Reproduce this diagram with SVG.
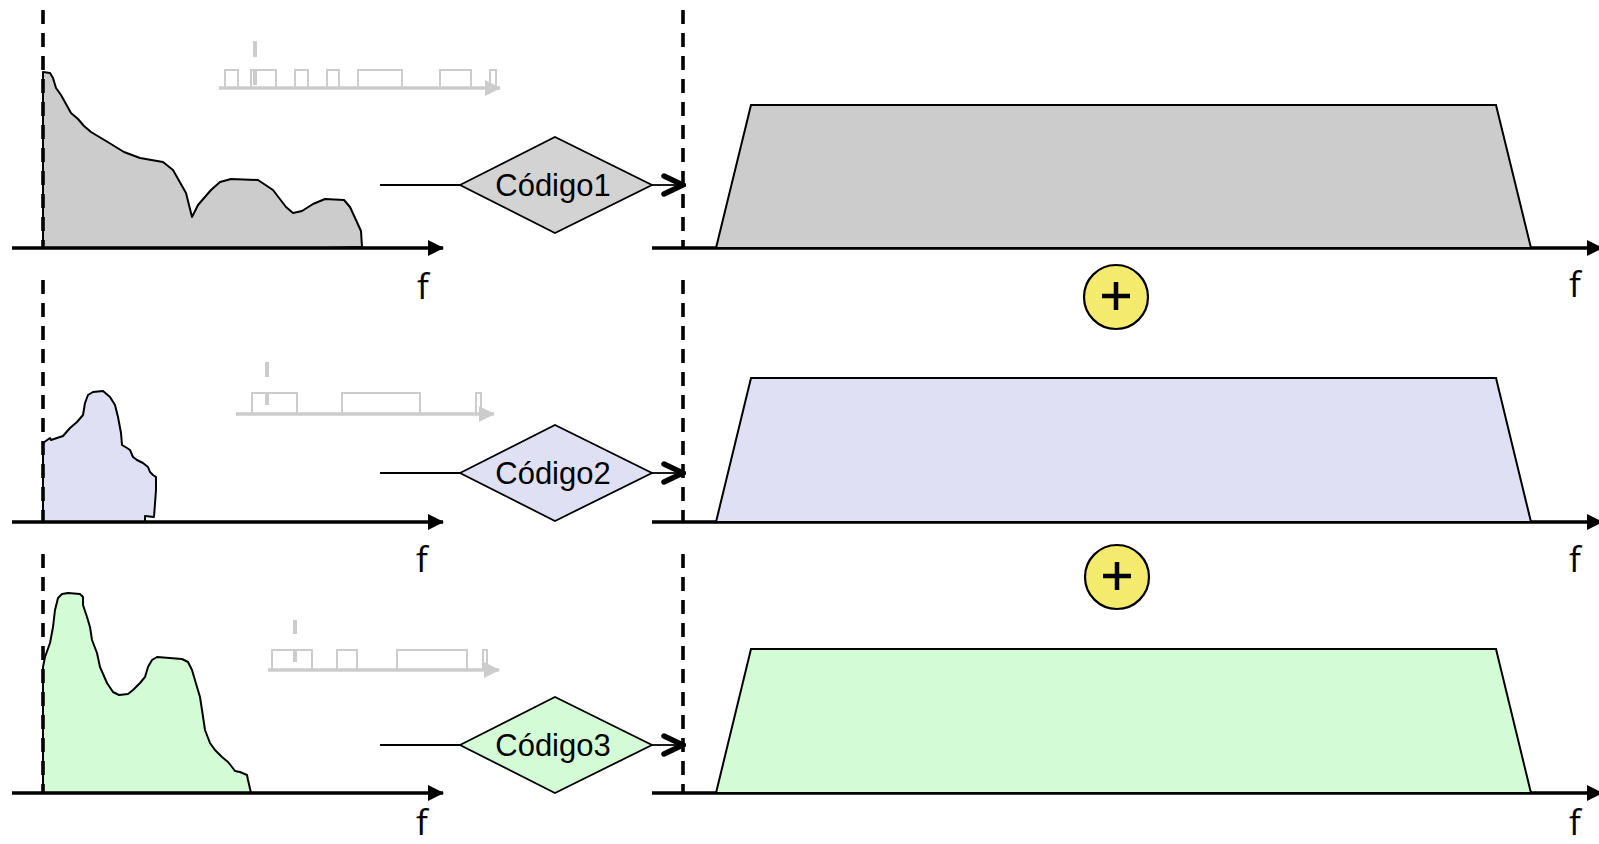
<svg xmlns="http://www.w3.org/2000/svg" width="1599" height="844" viewBox="0 0 1599 844">
  <defs>
    <style>
      .axis { stroke: #000; stroke-width: 3.6; fill: none; }
      .dash { stroke: #000; stroke-width: 3.6; stroke-dasharray: 14 9; fill: none; }
      .spec { stroke: #000; stroke-width: 2; stroke-linejoin: round; }
      .band { stroke: #000; stroke-width: 2; }
      .pulse { stroke: #cccccc; stroke-width: 2; fill: none; }
      .pbase { stroke: #cccccc; stroke-width: 3.5; fill: none; }
      .ptick { stroke: #cccccc; stroke-width: 4; fill: none; }
      .link { stroke: #000; stroke-width: 1.8; fill: none; }
      .diamond { stroke: #000; stroke-width: 1.8; }
      .lbl { font-family: "Liberation Sans", Arial, sans-serif; font-size: 31px; fill: #000; text-anchor: middle; dominant-baseline: central; }
      .f { font-family: "Open Sans", "DejaVu Sans", sans-serif; font-size: 35px; fill: #000; text-anchor: middle; }
      .sum { fill: #f3ea6e; stroke: #000; stroke-width: 2.2; }
      .plus { stroke: #000; stroke-width: 4.5; fill: none; }
      .gray { fill: #cccccc; }
      .lav { fill: #dfe0f3; }
      .mint { fill: #d3fbd5; }
    </style>
    <marker id="tri" viewBox="0 0 16 16" refX="15" refY="8" markerWidth="16" markerHeight="16" markerUnits="userSpaceOnUse" orient="auto">
      <path d="M0,0 L16,8 L0,16 Z" fill="#000"/>
    </marker>
    <marker id="grayTri" viewBox="0 0 16 16" refX="15" refY="8" markerWidth="16" markerHeight="16" markerUnits="userSpaceOnUse" orient="auto">
      <path d="M0,0 L16,8 L0,16 Z" fill="#cccccc"/>
    </marker>
    <marker id="open" viewBox="0 0 26 26" refX="23" refY="13" markerWidth="26" markerHeight="26" markerUnits="userSpaceOnUse" orient="auto">
      <path d="M4,4 L23,13 L4,22" fill="none" stroke="#000" stroke-width="5.5" stroke-linecap="round" stroke-linejoin="miter"/>
    </marker>
  </defs>

  <!-- ========== Band 1 ========== -->
  <g id="spectrum1">
    <path class="spec gray" d="M43,72 L50,73 L53,78 L56,88 L61,95 L66,104 L71,113 L78,119 L84,126 L91,132 L106,141 L124,152 L140,158 L163,162 L173,170 L186,193 L192,217 L198,205 L211,190 L220,182 L231,179 L258,180 L273,190 L286,207 L293,213 L302,211 L313,204 L325,199 L344,200 L350,207 L356,220 L361,231 L362,247 L325,248 L43,248 Z"/>
  </g>
  <g id="pulses1">
    <path class="pbase" d="M219,88 L500,88" marker-end="url(#grayTri)"/>
    <path class="pulse" d="M225,88 V70 H238 V88 M251,88 V70 H276 V88 M295,88 V70 H308 V88 M327,88 V70 H339 V88 M358,88 V70 H402 V88 M440,88 V70 H471 V88 M490,88 V70 H496 V88"/>
    <path class="ptick" d="M255,41 V57 M255,70 V85"/>
  </g>
  <g id="axisL1">
    <path class="axis" d="M12,248 L443,248" marker-end="url(#tri)"/>
    <path class="dash" d="M43,10 L43,248"/>
    <text class="f" x="423" y="299">f</text>
  </g>
  <g id="code1">
    <path class="diamond" fill="#d3d3d3" d="M460,185 L555,137 L652,185 L555,233 Z"/>
    <text class="lbl" x="553" y="185">Código1</text>
  </g>
  <g id="axisR1">
    <path class="dash" d="M683,10 L683,248"/>
    <path class="axis" d="M652,248 L1602,248" marker-end="url(#tri)"/>
    <text class="f" x="1575" y="297">f</text>
  </g>
  <g id="band1">
    <path class="band gray" d="M716,248 L751,105 L1496,105 L1531,248 Z"/>
  </g>

  <!-- ========== Band 2 ========== -->
  <g id="spectrum2">
    <path class="spec lav" d="M43,443 L50,438 L51,440 L63,436 L70,428 L77,422 L83,415 L85,403 L88,395 L93,392 L103,391 L110,397 L115,405 L118,417 L121,433 L122,445 L127,448 L130,450 L133,457 L137,460 L143,463 L148,467 L150,472 L153,475 L156,477 L156,490 L154,517 L145,516 L145,522 L43,522 Z"/>
  </g>
  <g id="pulses2">
    <path class="pbase" d="M236,414 L494,414" marker-end="url(#grayTri)"/>
    <path class="pulse" d="M252,414 V393 H297 V414 M342,414 V393 H420 V414 M476,414 V393 H481 V414"/>
    <path class="ptick" d="M267,362 V377 M267,393 V405"/>
  </g>
  <g id="axisL2">
    <path class="axis" d="M12,522 L443,522" marker-end="url(#tri)"/>
    <path class="dash" d="M43,280 L43,522"/>
    <text class="f" x="422" y="572">f</text>
  </g>
  <g id="code2">
    <path class="diamond" fill="#dfe0f3" d="M460,473 L555,425 L652,473 L555,521 Z"/>
    <text class="lbl" x="553" y="473">Código2</text>
  </g>
  <g id="axisR2">
    <path class="dash" d="M683,280 L683,522"/>
    <path class="axis" d="M652,522 L1602,522" marker-end="url(#tri)"/>
    <text class="f" x="1575" y="572">f</text>
  </g>
  <g id="band2">
    <path class="band lav" d="M716,522 L751,378 L1496,378 L1531,522 Z"/>
  </g>

  <!-- ========== Band 3 ========== -->
  <g id="spectrum3">
    <path class="spec mint" d="M43,667 L45,657 L50,643 L53,627 L55,610 L58,598 L62,594 L68,593 L80,594 L83,597 L83,605 L87,617 L90,627 L92,640 L97,653 L100,667 L107,683 L113,692 L119,695 L128,694 L133,690 L140,683 L145,677 L148,667 L152,660 L157,657 L182,659 L188,662 L192,670 L197,687 L200,697 L202,710 L205,730 L210,743 L215,750 L222,757 L228,762 L232,767 L235,771 L240,772 L247,775 L248,780 L251,793 L43,793 Z"/>
  </g>
  <g id="pulses3">
    <path class="pbase" d="M268,670 L499,670" marker-end="url(#grayTri)"/>
    <path class="pulse" d="M272,670 V650 H312 V670 M337,670 V650 H357 V670 M397,670 V650 H467 V670 M483,670 V650 H487 V670"/>
    <path class="ptick" d="M295,620 V634 M295,650 V662"/>
  </g>
  <g id="axisL3">
    <path class="axis" d="M12,793 L443,793" marker-end="url(#tri)"/>
    <path class="dash" d="M43,554 L43,793"/>
    <text class="f" x="422" y="835">f</text>
  </g>
  <g id="code3">
    <path class="diamond" fill="#d3fbd5" d="M460,745 L555,697 L652,745 L555,793 Z"/>
    <text class="lbl" x="553" y="745">Código3</text>
  </g>
  <g id="axisR3">
    <path class="dash" d="M683,554 L683,793"/>
    <path class="axis" d="M652,793 L1602,793" marker-end="url(#tri)"/>
    <text class="f" x="1575" y="835">f</text>
  </g>
  <g id="band3">
    <path class="band mint" d="M716,793 L751,649 L1496,649 L1531,793 Z"/>
  </g>

  <!-- summing nodes -->
  <g id="sum1">
    <circle class="sum" cx="1116" cy="297" r="32"/>
    <path class="plus" d="M1102,296 H1130 M1116,282 V310"/>
  </g>
  <g id="sum2">
    <circle class="sum" cx="1117" cy="577" r="32"/>
    <path class="plus" d="M1103,576 H1131 M1117,562 V590"/>
  </g>

  <!-- connectors: spectrum -> code -> band -->
  <g id="connectors">
    <path class="link" d="M380,185 L460,185"/>
    <path class="link" d="M652,185 L683,185" marker-end="url(#open)"/>
    <path class="link" d="M380,473 L460,473"/>
    <path class="link" d="M652,473 L683,473" marker-end="url(#open)"/>
    <path class="link" d="M380,745 L460,745"/>
    <path class="link" d="M652,745 L683,745" marker-end="url(#open)"/>
  </g>
</svg>
